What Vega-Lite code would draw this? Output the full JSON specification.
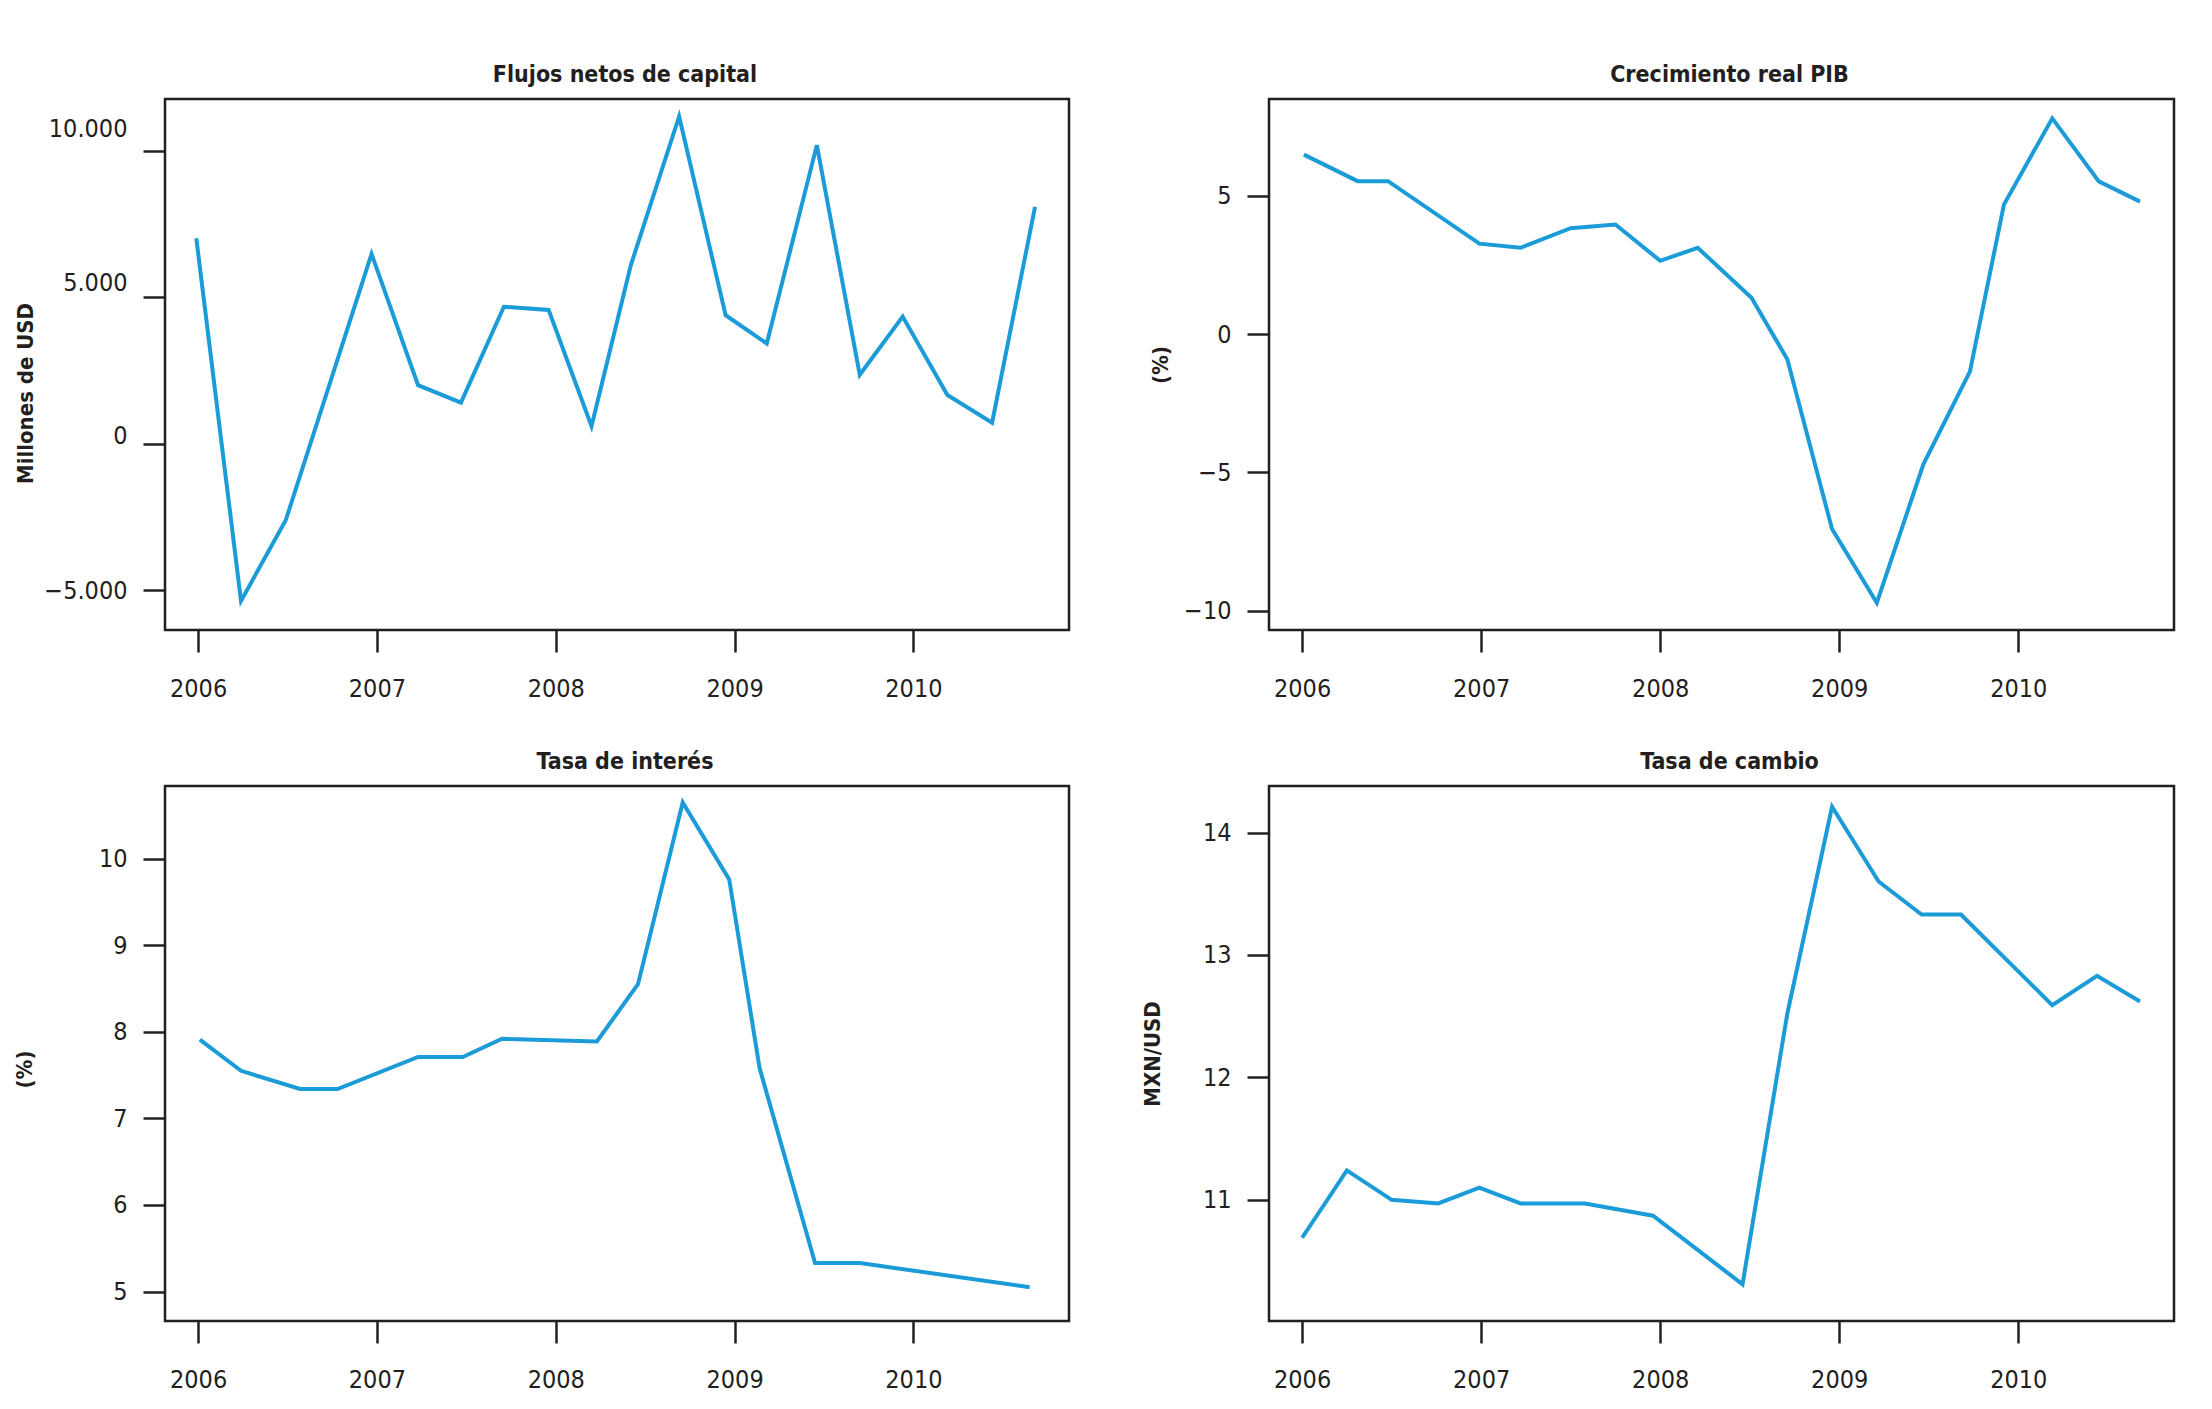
{
  "$schema": "https://vega.github.io/schema/vega-lite/v6.json",
  "background": "white",
  "padding": {"left": 11, "top": 62, "right": 0, "bottom": 0},
  "datasets": {
    "flujos": [
      {"t": 2005.99, "v": 7018}, {"t": 2006.24, "v": -5366}, {"t": 2006.49, "v": -2614},
      {"t": 2006.97, "v": 6483}, {"t": 2007.23, "v": 2003}, {"t": 2007.47, "v": 1407},
      {"t": 2007.71, "v": 4679}, {"t": 2007.96, "v": 4572}, {"t": 2008.20, "v": 597},
      {"t": 2008.42, "v": 6101}, {"t": 2008.69, "v": 11177}, {"t": 2008.95, "v": 4389},
      {"t": 2009.18, "v": 3425}, {"t": 2009.46, "v": 10199}, {"t": 2009.70, "v": 2355},
      {"t": 2009.94, "v": 4343}, {"t": 2010.19, "v": 1667}, {"t": 2010.44, "v": 719},
      {"t": 2010.68, "v": 8089}
    ],
    "pib": [
      {"t": 2006.01, "v": 6.49}, {"t": 2006.31, "v": 5.53}, {"t": 2006.48, "v": 5.53},
      {"t": 2006.99, "v": 3.27}, {"t": 2007.22, "v": 3.12}, {"t": 2007.50, "v": 3.83},
      {"t": 2007.75, "v": 3.96}, {"t": 2008.00, "v": 2.65}, {"t": 2008.21, "v": 3.12},
      {"t": 2008.51, "v": 1.31}, {"t": 2008.71, "v": -0.91}, {"t": 2008.96, "v": -7.05},
      {"t": 2009.21, "v": -9.72}, {"t": 2009.47, "v": -4.71}, {"t": 2009.73, "v": -1.36},
      {"t": 2009.92, "v": 4.68}, {"t": 2010.19, "v": 7.80}, {"t": 2010.45, "v": 5.52},
      {"t": 2010.68, "v": 4.79}
    ],
    "interes": [
      {"t": 2006.01, "v": 7.91}, {"t": 2006.24, "v": 7.55}, {"t": 2006.57, "v": 7.34},
      {"t": 2006.78, "v": 7.34}, {"t": 2007.23, "v": 7.71}, {"t": 2007.48, "v": 7.71},
      {"t": 2007.70, "v": 7.92}, {"t": 2008.23, "v": 7.89}, {"t": 2008.46, "v": 8.55},
      {"t": 2008.71, "v": 10.65}, {"t": 2008.97, "v": 9.76}, {"t": 2009.14, "v": 7.58},
      {"t": 2009.45, "v": 5.33}, {"t": 2009.70, "v": 5.33}, {"t": 2010.65, "v": 5.05}
    ],
    "cambio": [
      {"t": 2006.00, "v": 10.69}, {"t": 2006.25, "v": 11.24}, {"t": 2006.50, "v": 11.00},
      {"t": 2006.76, "v": 10.97}, {"t": 2006.99, "v": 11.10}, {"t": 2007.22, "v": 10.97},
      {"t": 2007.58, "v": 10.97}, {"t": 2007.96, "v": 10.87}, {"t": 2008.46, "v": 10.31},
      {"t": 2008.71, "v": 12.52}, {"t": 2008.96, "v": 14.21}, {"t": 2009.22, "v": 13.60},
      {"t": 2009.46, "v": 13.33}, {"t": 2009.68, "v": 13.33}, {"t": 2010.19, "v": 12.59},
      {"t": 2010.44, "v": 12.83}, {"t": 2010.68, "v": 12.62}
    ]
  },
  "columns": 2,
  "spacing": {"row": 46, "column": 68},
  "concat": [
    {
      "title": "Flujos netos de capital",
      "width": 904, "height": 531,
      "data": {"name": "flujos"},
      "mark": {"type": "line", "color": "#1b9bd7", "strokeWidth": 4, "strokeJoin": "miter"},
      "encoding": {
        "x": {"field": "t", "type": "quantitative",
              "scale": {"domain": [2005.815, 2010.87], "nice": false, "zero": false},
              "axis": {"values": [2006, 2007, 2008, 2009, 2010], "format": "d", "title": null}},
        "y": {"field": "v", "type": "quantitative",
              "scale": {"domain": [-6360, 11774], "nice": false, "zero": false},
              "axis": {"values": [-5000, 0, 5000, 10000],
                       "labelExpr": "datum.value == 0 ? '0' : replace(format(datum.value, ','), ',', '.')",
                       "labelOffset": {"condition": [
                         {"test": "datum.value == 10000", "value": -22},
                         {"test": "datum.value == 5000", "value": -15},
                         {"test": "datum.value == 0", "value": -8}
                       ], "value": 0},
                       "title": "Millones de USD", "titlePadding": 48, "titleY": 294}}
      }
    },
    {
      "title": "Crecimiento real PIB",
      "width": 905, "height": 531,
      "data": {"name": "pib"},
      "mark": {"type": "line", "color": "#1b9bd7", "strokeWidth": 4, "strokeJoin": "miter"},
      "encoding": {
        "x": {"field": "t", "type": "quantitative",
              "scale": {"domain": [2005.815, 2010.87], "nice": false, "zero": false},
              "axis": {"values": [2006, 2007, 2008, 2009, 2010], "format": "d", "title": null}},
        "y": {"field": "v", "type": "quantitative",
              "scale": {"domain": [-10.7, 8.5], "nice": false, "zero": false},
              "axis": {"values": [-10, -5, 0, 5], "format": "d",
                       "title": "(%)", "titlePadding": 17}}
      }
    },
    {
      "title": "Tasa de interés",
      "width": 904, "height": 535,
      "data": {"name": "interes"},
      "mark": {"type": "line", "color": "#1b9bd7", "strokeWidth": 4, "strokeJoin": "miter"},
      "encoding": {
        "x": {"field": "t", "type": "quantitative",
              "scale": {"domain": [2005.815, 2010.87], "nice": false, "zero": false},
              "axis": {"values": [2006, 2007, 2008, 2009, 2010], "format": "d", "title": null}},
        "y": {"field": "v", "type": "quantitative",
              "scale": {"domain": [4.66, 10.84], "nice": false, "zero": false},
              "axis": {"values": [5, 6, 7, 8, 9, 10], "format": "d",
                       "title": "(%)", "titlePadding": 49, "titleY": 283}}
      }
    },
    {
      "title": "Tasa de cambio",
      "width": 905, "height": 535,
      "data": {"name": "cambio"},
      "mark": {"type": "line", "color": "#1b9bd7", "strokeWidth": 4, "strokeJoin": "miter"},
      "encoding": {
        "x": {"field": "t", "type": "quantitative",
              "scale": {"domain": [2005.815, 2010.87], "nice": false, "zero": false},
              "axis": {"values": [2006, 2007, 2008, 2009, 2010], "format": "d", "title": null}},
        "y": {"field": "v", "type": "quantitative",
              "scale": {"domain": [10.01, 14.38], "nice": false, "zero": false},
              "axis": {"values": [11, 12, 13, 14], "format": "d",
                       "title": "MXN/USD", "titlePadding": 25}}
      }
    }
  ],
  "config": {
    "font": "DejaVu Sans Condensed, sans-serif",
    "view": {"stroke": "#231f20", "strokeWidth": 2.5},
    "axis": {
      "grid": false, "domain": false,
      "tickSize": 22, "tickWidth": 2.5, "tickColor": "#231f20",
      "labelFont": "DejaVu Sans Condensed, sans-serif",
      "labelFontSize": 25, "labelColor": "#231f20",
      "titleFont": "DejaVu Sans Condensed, sans-serif",
      "titleFontSize": 22, "titleFontWeight": "bold", "titleColor": "#231f20"
    },
    "axisX": {"labelPadding": 24},
    "axisY": {"labelPadding": 16, "minExtent": 80, "maxExtent": 80},
    "title": {
      "font": "DejaVu Sans Condensed, sans-serif",
      "fontSize": 23, "fontWeight": "bold", "color": "#231f20",
      "anchor": "middle", "offset": 12, "dx": 8
    }
  }
}
